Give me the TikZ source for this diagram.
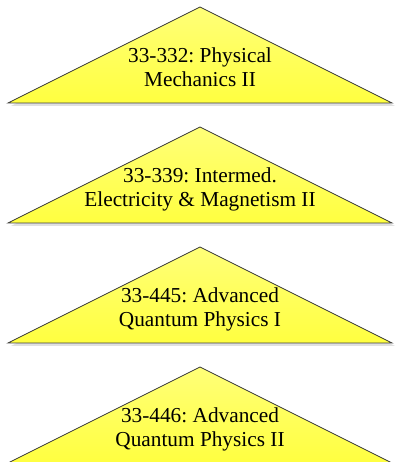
\documentclass[tikz,border=0pt]{standalone}
\usepackage{fontspec}
\setmainfont{Liberation Serif}
\usetikzlibrary{positioning,shadows,calc}
\definecolor{courseyellow}{RGB}{255,255,64}
\definecolor{courselight}{RGB}{255,255,120}
\definecolor{courseedge}{RGB}{64,64,64}
\tikzset{
  course/.style={align=center,font=\fontsize{21.3}{24}\selectfont\frenchspacing,inner sep=0pt},
  tri/.style={draw=courseedge,line width=0.8pt,line join=miter,
    top color=courselight,bottom color=courseyellow,
    drop shadow={shadow xshift=3pt,shadow yshift=-3pt,fill=black!12,opacity=1}}
}

\begin{document}
\begin{tikzpicture}[x=1pt,y=1pt]
  \useasboundingbox (0,0) rectangle (394,462);
  % apexes of the four triangles
  \coordinate (a1) at (200,455);
  \coordinate (a2) at (200,335);
  \coordinate (a3) at (200,215);
  \coordinate (a4) at (200,95);

  \filldraw[tri] (a1) -- ++(192,-96) -- ++(-384,0) -- cycle;
  \filldraw[tri] (a2) -- ++(192,-96) -- ++(-384,0) -- cycle;
  \filldraw[tri] (a3) -- ++(192,-96) -- ++(-384,0) -- cycle;
  \filldraw[tri] (a4) -- ++(192,-96) -- ++(-384,0) -- cycle;

  \node[course,below=40.5pt of a1] (pm2) {33-332: Physical\\Mechanics II};
  \node[course,below=40.5pt of a2] (em2) {33-339: Intermed.\\Electricity \& Magnetism II};
  \node[course,below=40.5pt of a3] (aqp1) {33-445: Advanced\\Quantum Physics I};
  \node[course,below=40.5pt of a4] (aqp2) {33-446: Advanced\\Quantum Physics II};
\end{tikzpicture}
\end{document}
